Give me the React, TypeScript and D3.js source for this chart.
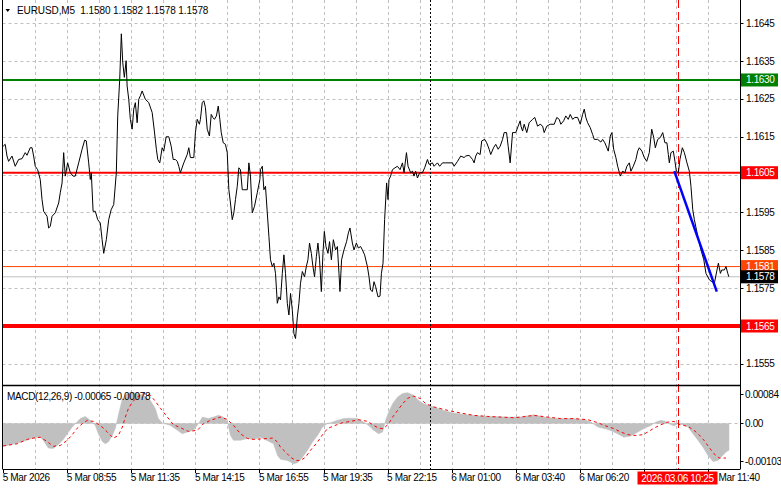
import React from 'react';
import * as d3 from 'd3';

// ---------- DATA ----------
const symbolHeader = 'EURUSD,M5  1.1580 1.1582 1.1578 1.1578';
const macdHeader = 'MACD(12,26,9) -0.00065 -0.00078';

// [bar index, close price]
const priceLine: [number, number][] = [
  [0, 1.16125], [1, 1.1613], [1.9, 1.16099], [2.7, 1.16085], [4.4, 1.16099], [6, 1.16072], [7.7, 1.1609], [9.4, 1.16092],
  [11, 1.16108], [11.9, 1.16101], [13.5, 1.16121], [14.4, 1.16121], [15.2, 1.16099], [16, 1.16072], [17.2, 1.16063], [18.5, 1.16037],
  [19.4, 1.15984], [20.2, 1.15953], [21.9, 1.1594], [22.7, 1.15909], [23.5, 1.15913], [24.4, 1.1594], [26, 1.15949], [27.7, 1.15975],
  [28.5, 1.16002], [29.4, 1.16028], [30.2, 1.16108], [31, 1.16046], [32.2, 1.16081], [33.5, 1.16055], [34.9, 1.16046], [36, 1.16046],
  [37.7, 1.16081], [39.4, 1.16117], [40.7, 1.16141], [41.5, 1.16139], [42.7, 1.16081], [43.5, 1.16037], [44, 1.16055], [44.9, 1.15953],
  [46, 1.15953], [47.2, 1.15931], [48.5, 1.15922], [49.4, 1.15878], [50.2, 1.15842], [51.5, 1.15878], [52.7, 1.15931], [53.9, 1.15957],
  [55.2, 1.15971], [56.5, 1.16055], [57.2, 1.16205], [58.2, 1.16302], [59, 1.16422], [59.7, 1.16347], [60.5, 1.16307], [61.4, 1.16351],
  [61.9, 1.16284], [62.7, 1.16249], [63.5, 1.16196], [64.4, 1.1617], [65.2, 1.16223], [66, 1.1624], [66.9, 1.16187], [67.7, 1.16249],
  [68.5, 1.16258], [69.4, 1.16271], [71, 1.16249], [72.7, 1.1624], [74.4, 1.16214], [75.5, 1.16165], [76.5, 1.16117], [77.2, 1.1609],
  [78.2, 1.16081], [79.4, 1.16121], [80.2, 1.16112], [81.4, 1.1615], [82.7, 1.1615], [83.9, 1.16125], [84.9, 1.1609], [86, 1.1609],
  [86.9, 1.16085], [87.7, 1.16072], [88.5, 1.16055], [90.2, 1.16081], [91.9, 1.16103], [92.7, 1.16121], [93.5, 1.16095], [95.2, 1.16095],
  [96, 1.16161], [96.9, 1.16196], [98, 1.16183], [98.5, 1.16196], [99.4, 1.1624], [100.2, 1.16245], [101, 1.16227], [101.9, 1.1617],
  [103, 1.16152], [103.9, 1.16209], [104.7, 1.16201], [105.5, 1.16196], [106.5, 1.16205], [107.4, 1.16231], [108.2, 1.16196], [108.9, 1.16161],
  [109.9, 1.16134], [111, 1.1613], [111.9, 1.16108], [112.7, 1.1601], [113.5, 1.15975], [114.4, 1.15931], [115.2, 1.15949], [116, 1.15984],
  [116.9, 1.16019], [117.7, 1.16068], [118.5, 1.16063], [119.4, 1.1601], [120.2, 1.1601], [121.9, 1.1601], [122.7, 1.16081], [123.5, 1.16046],
  [124.4, 1.15949], [125.5, 1.15966], [126.9, 1.16002], [128.2, 1.16037],
  [128.5, 1.16063], [129.4, 1.16072], [130.2, 1.1601], [131, 1.16019], [131.9, 1.15949], [132.7, 1.15887], [133.5, 1.15825], [134.4, 1.15807],
  [135.2, 1.15816], [136, 1.15789], [136.9, 1.1571], [137.7, 1.15727], [138.5, 1.15719], [139.4, 1.15789], [140.2, 1.15838], [141, 1.15789],
  [141.9, 1.1571], [142.7, 1.15679], [143.5, 1.15736], [144.4, 1.15692], [145.2, 1.1563], [146, 1.15617], [146.9, 1.15674], [147.7, 1.1571],
  [148.5, 1.15763], [149.4, 1.15794], [150.5, 1.1578], [151.4, 1.15807], [152.2, 1.15825], [153, 1.15869], [153.9, 1.15842], [154.7, 1.15807],
  [155.5, 1.1578], [156.4, 1.15833], [157.2, 1.15869], [158, 1.15825], [158.9, 1.15741], [159.7, 1.15842], [160.4, 1.159], [161.2, 1.1586],
  [162.2, 1.15842], [163, 1.15873], [163.9, 1.15825], [164.9, 1.15878], [166, 1.15851], [166.9, 1.1586], [167.7, 1.15789], [168.2, 1.15741],
  [169, 1.15825], [170.2, 1.15851], [171.5, 1.15873], [172.4, 1.15896], [173.2, 1.15909], [174.4, 1.15869], [175.2, 1.15851], [176.4, 1.15869],
  [177.4, 1.15856], [178.5, 1.1586], [179.4, 1.15851], [180.5, 1.15838], [181.9, 1.15807], [182.7, 1.1578], [183.5, 1.15745], [184.4, 1.15741],
  [185.2, 1.15767], [186, 1.15754], [187.2, 1.15727], [188.2, 1.15729], [188.9, 1.15789], [189.7, 1.15816], [190.5, 1.15931], [191.5, 1.16028],
  [192.2, 1.15984], [192.7, 1.16037], [193.5, 1.16046], [194.4, 1.16063], [195.7, 1.16068], [196.9, 1.16072], [198.2, 1.16063], [199.4, 1.16081],
  [200.2, 1.16055], [201.4, 1.16108], [202.2, 1.16072], [203.5, 1.16055], [204.4, 1.16059], [205.2, 1.16046], [206, 1.16059], [206.9, 1.16041],
  [208, 1.16055], [209.4, 1.16055], [210.5, 1.16068], [211.9, 1.1609], [212.7, 1.16077], [214.4, 1.16081], [215.2, 1.16072], [216.9, 1.16081],
  [218, 1.16072], [219.4, 1.16081], [221, 1.16081], [224.4, 1.16081], [225.2, 1.16072], [226.9, 1.16085], [228.5, 1.16099], [230.2, 1.16095],
  [231, 1.16099], [232.7, 1.16101], [234.4, 1.1609], [235.2, 1.16081], [236, 1.16099], [236.9, 1.16108], [238.2, 1.16103], [239, 1.16139],
  [240.5, 1.16143], [241.5, 1.16134], [242.7, 1.16117], [243.5, 1.16103], [244.9, 1.16121], [246, 1.1613], [247.2, 1.16117], [248.2, 1.16125],
  [249.4, 1.16143], [250.2, 1.16161], [251.4, 1.16161], [252.2, 1.16125], [253.2, 1.16081], [254.4, 1.16161], [256, 1.16161], [257.2, 1.16178],
  [258.2, 1.16192],
  [258.6, 1.16178], [259.4, 1.16165], [260.2, 1.16183], [261.5, 1.16161], [262.7, 1.16187], [264.4, 1.16196], [265.5, 1.16201], [266.9, 1.16178],
  [268.2, 1.16183], [269.4, 1.16178], [270.2, 1.16161], [271.5, 1.16178], [273.2, 1.16183], [275.2, 1.16183], [276.5, 1.16201], [277.7, 1.16196],
  [278.5, 1.16183], [279.9, 1.16192], [281, 1.16205], [282.2, 1.16196], [283.2, 1.16209], [284.4, 1.16196], [285.5, 1.16201], [286.9, 1.16201],
  [288.2, 1.16183], [289.4, 1.16209], [290.2, 1.16223], [291, 1.16201], [291.9, 1.16187], [293.2, 1.16174], [294.4, 1.16156], [295.2, 1.16143],
  [296.9, 1.16143], [298.5, 1.16136], [299.4, 1.16143], [300.5, 1.16134], [302.2, 1.16112], [303.2, 1.16152], [304, 1.16161], [304.9, 1.16117],
  [306, 1.16095], [306.9, 1.16072], [308.2, 1.16046], [309.4, 1.16059], [310.5, 1.16055], [311.5, 1.16072], [312.7, 1.16081], [313.5, 1.16059],
  [314.7, 1.16072], [316, 1.1609], [316.9, 1.16112], [317.7, 1.16121], [319, 1.16112], [320.2, 1.16095], [321.4, 1.16085], [322.7, 1.16108],
  [323.9, 1.1617], [324.9, 1.16148], [325.7, 1.16121], [326.9, 1.16143], [328.2, 1.16148], [329.4, 1.16161], [330.5, 1.16134], [331.5, 1.16134],
  [332.2, 1.16103], [332.7, 1.16081], [333.5, 1.16108], [334.7, 1.16112], [335.5, 1.16085], [336.2, 1.16059], [337.2, 1.16055], [338, 1.1609],
  [339.2, 1.16121], [340.2, 1.16108], [341.5, 1.16081], [342.7, 1.16059], [343.5, 1.16019], [344.4, 1.15957], [345.2, 1.15931], [346.9, 1.15887],
  [348.5, 1.15851], [349.9, 1.15825], [351, 1.15789], [352.7, 1.15772], [353.9, 1.15767], [355.2, 1.15763], [356.5, 1.15798], [357.2, 1.15816],
  [358.2, 1.15789], [358.9, 1.15798], [360.2, 1.15798], [361, 1.15807], [361.9, 1.15789], [362.4, 1.1578],
];

// blue trend line [bar, price]
const trendLine: [number, number][] = [[335.2, 1.16059], [356.4, 1.15741]];

// MACD main (histogram) [bar, value]
const macdHist: [number, number][] = [
  [0, -0.00053], [7, -0.00046], [15, -0.00034], [18.5, -0.00032], [20, -0.00039], [22.5, -0.00057], [25, -0.00058], [27.5, -0.00049],
  [30, -0.00037], [32, -0.00024], [34.5, -0.000085], [38.5, 0.00011], [41, 0.00016], [43.5, 0.00007], [46, -0.000046], [47.5, -0.00024],
  [49.5, -0.00042], [51, -0.00047], [52.5, -0.00043], [54.5, -0.00028], [56, -0.00012], [57.5, 0.000185], [59.5, 0.00057], [61, 0.00066],
  [63.5, 0.00072], [67, 0.00069], [70, 0.00065], [73.5, 0.00053], [76, 0.00034], [77.5, 0.00011], [79.5, 0.000007], [83.5, -0.000046],
  [87, -0.00016], [89.5, -0.00024], [92, -0.0002], [95, -0.00016], [97.5, -0.000007], [99.5, 0.000145], [102.5, 0.00011], [105, 0.000145],
  [107.5, 0.000185], [110, 0.000145], [112, 0.00003], [113.5, -0.00028], [115, -0.00039], [118.5, -0.00039], [122, -0.00035], [125, -0.00037],
  [128.5, -0.00032], [135, -0.00047], [137, -0.00074], [138.5, -0.00083], [142, -0.000855], [145, -0.00093], [147, -0.00091], [149.5, -0.00078],
  [152, -0.00062], [154.5, -0.00043], [157, -0.00028], [159.5, -0.000085], [162, 0], [164.5, 0.00003], [167, 0.00007], [170, 0.00011],
  [172.5, 0.00012], [177, 0.00011], [180, 0.00003], [182.5, -0.000046], [185, -0.00016], [187.5, -0.00024], [189.5, -0.0002], [191, 0.00007],
  [192.5, 0.00026], [194.5, 0.000455], [197, 0.00061], [199.5, 0.00069], [202, 0.00071], [205, 0.00065], [207.5, 0.00053], [210, 0.000455],
  [212.5, 0.00042], [215, 0.00038], [220, 0.0003], [225, 0.00024], [232, 0.0002], [238.5, 0.00017], [245, 0.00016], [252, 0.000145],
  [258.5, 0.00015], [265, 0.0002], [270, 0.000145], [275, 0.00012], [283.5, 0.00011], [290, 0.00009], [293.5, 0.00003], [297, -0.000085],
  [302, -0.00014], [305, -0.0002], [308.5, -0.00028], [310, -0.00032], [313.5, -0.00029], [317, -0.0002], [320, -0.00012], [323.5, -0.000046],
  [326, 0.00003], [328.5, 0.00007], [331, 0.000046], [332.5, -0.000007], [335, -0.00006], [337, -0.000007], [339.5, -0.00003], [342, -0.000085],
  [344.5, -0.00024], [347, -0.00039], [349.5, -0.00055], [352, -0.00074], [354.5, -0.00088], [357, -0.000855], [358.5, -0.00078], [361, -0.00066],
  [362.5, -0.00062],
];

// MACD signal [bar, value]
const macdSignal: [number, number][] = [
  [0, -0.00052], [7, -0.00047], [12, -0.00037], [15, -0.00034], [18.5, -0.00032], [22, -0.00042], [25, -0.00053], [28.5, -0.00051],
  [32, -0.00039], [34.5, -0.00026], [37, -0.00011], [39.5, -0.000007], [42, 0.00007], [45, 0.000046], [48.5, -0.000046], [52, -0.0002],
  [55, -0.00034], [57.5, -0.00028], [59.5, -0.000085], [61, 0.000145], [62.5, 0.00034], [64.5, 0.00049], [67, 0.00061], [70, 0.00069],
  [73.5, 0.00065], [76, 0.00051], [78.5, 0.00035], [82, 0.000145], [85, -0.00003], [89.5, -0.00012], [92.5, -0.000185], [97, -0.00016],
  [100, -0.000007], [103.5, 0.00007], [108.5, 0.000145], [112, 0.00009], [115, -0.000046], [118.5, -0.00024], [122, -0.00035], [125, -0.00037],
  [128.5, -0.00036], [134.5, -0.00034], [137, -0.00043], [138.5, -0.00055], [141, -0.00066], [143.5, -0.00078], [146, -0.000855], [148.5, -0.000855],
  [151, -0.00078], [153.5, -0.00062], [157, -0.00043], [159.5, -0.00026], [162, -0.00012], [165, -0.00006], [169.5, 0.000016], [173.5, 0.000046],
  [177.5, 0.000085], [182, 0.000046], [185, -0.000046], [187.5, -0.00011], [190, -0.00012], [192.5, -0.000007], [194.5, 0.000145], [197, 0.0003],
  [199.5, 0.000455], [202, 0.00058], [205, 0.00063], [208.5, 0.00057], [211, 0.000455], [215, 0.00038], [222, 0.0003], [228.5, 0.00024],
  [235, 0.000185], [242, 0.00016], [248.5, 0.000145], [255, 0.00013], [258.5, 0.000145], [265, 0.000185], [272, 0.000145], [278.5, 0.00011],
  [285, 0.00011], [292, 0.000085], [297, 0.000016], [301, -0.00006], [305, -0.00012], [308.5, -0.0002], [312, -0.00026], [316, -0.00028],
  [319.5, -0.00026], [322.5, -0.000185], [325, -0.00011], [328.5, -0.00003], [332, 0.00003], [335, 0.000046], [337.5, -0.000023], [340, -0.000046],
  [342.5, -0.000085], [345, -0.00016], [347.5, -0.00026], [350, -0.00039], [352.5, -0.00055], [355, -0.0007], [357.5, -0.0008], [361, -0.0008],
];

const priceTicks = [1.1555, 1.1565, 1.1575, 1.1585, 1.1595, 1.1605, 1.1615, 1.1625, 1.1635, 1.1645];
const macdTicks = [0.00084, 0, -0.00103];
const macdTickLabels = ['0.00084', '0.00', '-0.00103'];
const timeTickBars = [0, 32, 64, 96, 128, 160, 192, 224, 256, 288, 320, 352];
const timeLabels = [
  '5 Mar 2026', '5 Mar 08:55', '5 Mar 11:35', '5 Mar 14:15', '5 Mar 16:55', '5 Mar 19:35',
  '5 Mar 22:15', '6 Mar 01:00', '6 Mar 03:40', '6 Mar 06:20', '6 Mar 09:00', '6 Mar 11:40',
];
const levelValues = [1.163, 1.16055, 1.1565, 1.15807, 1.1578];
const levelLabels = ['1.1630', '1.1605', '1.1565', '1.1581', '1.1578'];
const separatorBar = 213;
const cursorBar = 336.8;
const cursorLabel = '2026.03.06 10:25';

// ---------- STYLES ----------
const levelStyles = [
  { stroke: '#008000', width: 2, box: '#008000' },
  { stroke: '#ff0000', width: 2, box: '#ff0000' },
  { stroke: '#ff0000', width: 4, box: '#ff0000' },
  { stroke: '#ff4500', width: 1, box: '#ff4500' },
  { stroke: '#c0c0c0', width: 1, box: '#000000' },
];

const W = 781;
const H = 489;
const LEFT = 2.5;
const RIGHT = 740.5;
const MAIN_TOP = 0;
const MAIN_BOTTOM = 385.5;
const MACD_TOP = 387;
const MACD_BOTTOM = 468;
const AXIS_Y = 469;
const FONT = 'Liberation Sans, Arial, sans-serif';
const GRID = '#c0c0c0';

export default function App() {
  const x = d3.scaleLinear().domain([0, 362]).range([3.2, 728]);
  const y = d3.scaleLinear().domain([1.1555, 1.1645]).range([363.85, 23.2]);
  const my = d3.scaleLinear().domain([-0.00103, 0.00084]).range([MACD_BOTTOM, MACD_TOP]);

  const priceLinePath = d3.line<[number, number]>().x(d => x(d[0])).y(d => y(d[1]))(priceLine) || '';
  const trendPath = d3.line<[number, number]>().x(d => x(d[0])).y(d => y(d[1]))(trendLine) || '';
  const histPath = d3.area<[number, number]>().x(d => x(d[0])).y0(my(0)).y1(d => my(d[1]))(macdHist) || '';
  const signalPath = d3.line<[number, number]>().x(d => x(d[0])).y(d => my(d[1]))(macdSignal) || '';

  const gridBars = d3.range(16, 353, 16);
  const textStyle = { fontFamily: FONT, fontSize: 10, letterSpacing: '-0.35px' } as React.CSSProperties;

  const sepX = Math.round(x(separatorBar)) + 0.5;
  const curX = Math.round(x(cursorBar)) + 0.5;
  const boxL = curX - 41;
  const boxR = boxL + 80;

  // price tick labels hidden behind level boxes are not drawn
  const visiblePriceTicks = priceTicks.filter(p => !levelValues.some(v => Math.abs(y(v) - y(p)) < 6));

  return (
    <svg width={W} height={H} viewBox={`0 0 ${W} ${H}`} style={{ position: 'absolute', left: 0, top: 0, background: '#fff' }}>
      <defs>
        <clipPath id="mainClip"><rect x={LEFT} y={MAIN_TOP} width={RIGHT - LEFT} height={MAIN_BOTTOM - MAIN_TOP} /></clipPath>
        <clipPath id="macdClip"><rect x={LEFT} y={MACD_TOP - 1} width={RIGHT - LEFT} height={MACD_BOTTOM - MACD_TOP + 1} /></clipPath>
      </defs>
      <rect x={0} y={0} width={W} height={H} fill="#fff" />

      {/* vertical grid */}
      {gridBars.map(b => (
        <line key={'vg' + b} x1={Math.round(x(b)) + 0.5} x2={Math.round(x(b)) + 0.5} y1={0} y2={AXIS_Y}
          stroke={GRID} strokeWidth={1} strokeDasharray="3,3" />
      ))}
      {/* horizontal grid */}
      {priceTicks.map(p => (
        <line key={'hg' + p} x1={LEFT} x2={RIGHT} y1={Math.round(y(p)) + 0.5} y2={Math.round(y(p)) + 0.5}
          stroke={GRID} strokeWidth={1} strokeDasharray="3,3" />
      ))}
      <line x1={LEFT} x2={RIGHT} y1={Math.round(my(0)) + 0.5} y2={Math.round(my(0)) + 0.5} stroke={GRID} strokeDasharray="3,3" />

      {/* MACD */}
      <g clipPath="url(#macdClip)">
        <path d={histPath} fill="#c0c0c0" stroke="#c0c0c0" strokeWidth={0.5} />
        <path d={signalPath} fill="none" stroke="#ff0000" strokeWidth={1} strokeDasharray="3,3" />
      </g>

      {/* level lines */}
      <g clipPath="url(#mainClip)">
        {levelValues.map((v, i) => (
          <line key={'lv' + i} x1={LEFT} x2={RIGHT} y1={y(v)} y2={y(v)} stroke={levelStyles[i].stroke} strokeWidth={levelStyles[i].width} />
        ))}
      </g>

      {/* separator & cursor */}
      <line x1={sepX} x2={sepX} y1={0} y2={AXIS_Y} stroke="#000" strokeWidth={1} strokeDasharray="2,2" />
      <line x1={curX} x2={curX} y1={0} y2={AXIS_Y} stroke="#ff0000" strokeWidth={1} strokeDasharray="8,4" />

      {/* price line */}
      <g clipPath="url(#mainClip)">
        <path d={priceLinePath} fill="none" stroke="#000" strokeWidth={1} />
        <path d={trendPath} fill="none" stroke="#0000ff" strokeWidth={2.5} />
      </g>

      {/* frame */}
      <line x1={LEFT} x2={LEFT} y1={0} y2={AXIS_Y} stroke="#000" strokeWidth={1} />
      <line x1={RIGHT} x2={RIGHT} y1={0} y2={AXIS_Y} stroke="#000" strokeWidth={1} />
      <line x1={LEFT} x2={RIGHT} y1={MAIN_BOTTOM} y2={MAIN_BOTTOM} stroke="#000" strokeWidth={1.5} />
      <line x1={LEFT} x2={RIGHT} y1={AXIS_Y + 0.5} y2={AXIS_Y + 0.5} stroke="#000" strokeWidth={1} />

      {/* price axis */}
      {priceTicks.map(p => (
        <line key={'ptk' + p} x1={RIGHT} x2={RIGHT + 3} y1={Math.round(y(p)) + 0.5} y2={Math.round(y(p)) + 0.5} stroke="#000" />
      ))}
      {visiblePriceTicks.map(p => (
        <text key={'pt' + p} x={746} y={y(p)} dy="0.35em" style={textStyle} fill="#000">{p.toFixed(4)}</text>
      ))}
      {/* macd axis */}
      {macdTicks.map((v, i) => {
        const ty = i === 0 ? my(v) + 7 : i === 2 ? my(v) - 7 : my(v);
        return (
          <g key={'mt' + i}>
            <line x1={RIGHT} x2={RIGHT + 3} y1={Math.round(ty) + 0.5} y2={Math.round(ty) + 0.5} stroke="#000" />
            <text x={745} y={ty} dy="0.35em" style={textStyle} fill="#000">{macdTickLabels[i]}</text>
          </g>
        );
      })}

      {/* level boxes */}
      {levelValues.map((v, i) => (
        <g key={'lb' + i}>
          <rect x={741} y={y(v) - 6.5} width={37} height={13} fill={levelStyles[i].box} />
          <text x={746} y={y(v)} dy="0.35em" style={textStyle} fill="#fff">{levelLabels[i]}</text>
        </g>
      ))}

      {/* time axis */}
      {timeTickBars.map((b, i) => {
        const tx = x(b) - 0.5;
        const hidden = tx > boxL - 45 && tx < boxL + 20;
        const partial = tx >= boxL + 20 && tx < boxR;
        const label = partial ? timeLabels[i].split(' ').slice(1).join(' ') : timeLabels[i];
        return (
          <g key={'tt' + b}>
            <line x1={Math.round(x(b)) + 0.5} x2={Math.round(x(b)) + 0.5} y1={AXIS_Y} y2={AXIS_Y + 4} stroke="#000" />
            {!hidden && (
              <text x={partial ? boxR + 1 : tx} y={481} style={textStyle} fill="#000">{label}</text>
            )}
          </g>
        );
      })}
      <rect x={boxL} y={471.5} width={80} height={13} fill="#ff0000" />
      <text x={curX - 1} y={481.5} textAnchor="middle" style={textStyle} fill="#fff">{cursorLabel}</text>

      {/* headers */}
      <path d="M5.5,9 L10,9 L7.75,12 Z" fill="#000" />
      <text x={17} y={14} style={{ ...textStyle, letterSpacing: '-0.1px', whiteSpace: 'pre' }} fill="#000">{symbolHeader}</text>
      <text x={7} y={399.5} style={{ ...textStyle, whiteSpace: 'pre' }} fill="#000">{macdHeader}</text>
    </svg>
  );
}
